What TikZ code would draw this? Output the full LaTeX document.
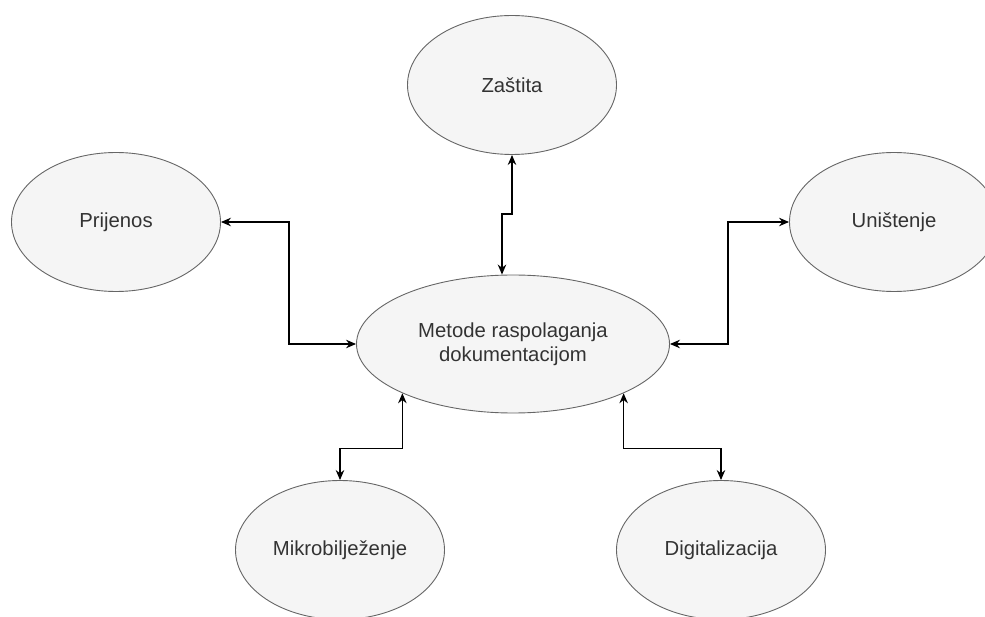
\documentclass[tikz,border=0pt]{standalone}
\usepackage{fontspec}
\setmainfont{Liberation Sans}
\usetikzlibrary{shapes.geometric,arrows.meta}
\definecolor{ellfill}{HTML}{F5F5F5}
\definecolor{elldraw}{HTML}{666666}
\definecolor{txt}{HTML}{333333}
\tikzset{
  ell/.style={ellipse, draw=elldraw, fill=ellfill, line width=0.9pt, inner sep=0pt,
    text=txt, font=\fontsize{20.3}{24}\selectfont, align=center},
  smallell/.style={ell, minimum width=209pt, minimum height=139pt},
  bigell/.style={ell, minimum width=313pt, minimum height=138pt},
  arr/.style={{Stealth[length=10pt,width=8.5pt]}-{Stealth[length=10pt,width=8.5pt]}, line width=1.4pt, black}
}
\begin{document}
\begin{tikzpicture}[x=1pt,y=-1pt]
\useasboundingbox (0,0) rectangle (985,617);
\begin{scope}
\clip (0,0) rectangle (985,617);
\node[bigell] (c) at (513,344) {Metode raspolaganja\\dokumentacijom};
\node[smallell] (zas) at (512,85) {Zaštita};
\node[smallell] (pri) at (116,222) {Prijenos};
\node[smallell] (uni) at (894,222) {Uništenje};
\node[smallell] (mik) at (340,550) {Mikrobilježenje};
\node[smallell] (dig) at (721,550) {Digitalizacija};
\end{scope}
\draw[arr] (zas.south) -- ++(0,59) -| ([xshift=-11pt]c.north);
\draw[arr] (pri.east) -- ++(68,0) |- (c.west);
\draw[arr] (uni.west) -- ++(-61,0) |- (c.east);
\draw[arr] (c.204) -- ++(0,55) -| (mik.north);
\draw[arr] (c.336) -- ++(0,55) -| (dig.north);
\end{tikzpicture}
\end{document}
